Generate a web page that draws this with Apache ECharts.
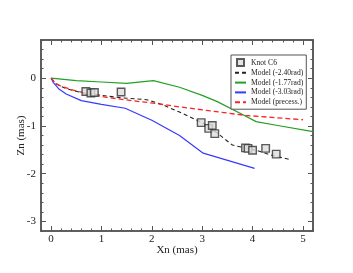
<!DOCTYPE html>
<html><head><meta charset="utf-8">
<script src="https://cdn.jsdelivr.net/npm/echarts@6/dist/echarts.min.js"></script>
<style>html,body{margin:0;padding:0;background:#fff}#c{width:353px;height:273px}</style>
</head><body><div id="c"></div>
<script>
const xTicks = [0, 1, 2, 3, 4, 5];
const yTicks = [-3, -2, -1, 0];
const knotC6 = [[0.69,-0.28],[0.79,-0.31],[0.86,-0.30],[1.39,-0.29],[2.98,-0.93],[3.13,-1.05],[3.20,-0.99],[3.25,-1.16],[3.86,-1.46],[3.91,-1.47],[4.00,-1.51],[4.26,-1.47],[4.47,-1.59]];
const model240 = [[0,0],[0.1,-0.12],[0.3,-0.22],[0.6,-0.3],[1.0,-0.36],[1.4,-0.41],[1.9,-0.45],[2.2,-0.55],[2.55,-0.71],[3.0,-0.93],[3.3,-1.15],[3.6,-1.40],[3.85,-1.46],[4.1,-1.52],[4.4,-1.62],[4.77,-1.71]];
const model177 = [[0,0],[0.5,-0.05],[1.0,-0.08],[1.5,-0.11],[2.03,-0.05],[2.55,-0.19],[3.0,-0.36],[3.3,-0.49],[3.8,-0.76],[4.07,-0.91],[4.5,-0.99],[5.2,-1.12]];
const model303 = [[0,0],[0.05,-0.1],[0.15,-0.22],[0.3,-0.33],[0.6,-0.47],[1.0,-0.55],[1.47,-0.63],[2.0,-0.88],[2.55,-1.2],[3.02,-1.57],[4.04,-1.89]];
const modelPrec = [[0,0],[0.08,-0.1],[0.2,-0.17],[0.44,-0.25],[0.7,-0.32],[1.1,-0.4],[1.6,-0.47],[2.09,-0.53],[2.55,-0.6],[3.2,-0.69],[3.87,-0.78],[5.0,-0.87]];
const names = ['Knot C6','Model (-2.40rad)','Model (-1.77rad)','Model (-3.03rad)','Model (precess.)'];

const xMin = -0.2, xMax = 5.2, yMin = -3.2, yMax = 0.8;
const xMinor = [], yMinor = [];
for (let i = 0; i <= 27; i++) xMinor.push(+(xMin + i * 0.2).toFixed(2));
for (let i = 0; i <= 20; i++) yMinor.push(+(yMin + i * 0.2).toFixed(2));

const FONT = 'Liberation Serif';
const frame = {show: true, onZero: false, lineStyle: {color: '#555', width: 1.5}};
function ax(pos, vals, len, labels, extra) {
  const isX = pos === 'bottom' || pos === 'top';
  return Object.assign({
    type: 'value', position: pos,
    min: isX ? xMin : yMin,
    max: isX ? xMax : yMax,
    axisLine: frame,
    axisTick: {show: true, inside: true, length: len, customValues: vals, lineStyle: {color: '#555', width: 1}},
    axisLabel: labels ? {show: true, customValues: vals, fontFamily: FONT, fontSize: 11, color: '#222', margin: isX ? 3 : 5} : {show: false},
    splitLine: {show: false}
  }, extra || {});
}
const hideSym = {opacity: 0};
const chart = echarts.init(document.getElementById('c'));
chart.setOption({
  animation: false,
  grid: {left: 41, top: 40, right: 40, bottom: 42, containLabel: false},
  xAxis: [
    ax('bottom', xTicks, 5, true, {name: 'Xn (mas)', nameLocation: 'middle', nameGap: 14, nameMoveOverlap: false, nameTextStyle: {fontFamily: FONT, fontSize: 11, color: '#222'}}),
    ax('bottom', xMinor, 2.5, false),
    ax('top', xTicks, 5, false),
    ax('top', xMinor, 2.5, false)
  ],
  yAxis: [
    ax('left', yTicks, 5, true, {name: 'Zn (mas)', nameLocation: 'middle', nameGap: 14, nameMoveOverlap: false, nameRotate: 90, nameTextStyle: {fontFamily: FONT, fontSize: 11, color: '#222'}}),
    ax('left', yMinor, 2.5, false),
    ax('right', yTicks, 5, false),
    ax('right', yMinor, 2.5, false)
  ],
  legend: {
    orient: 'vertical', left: 231, top: 55, itemGap: 1.8, itemWidth: 11, itemHeight: 7,
    padding: [3, 3, 3, 3], borderColor: '#555', borderWidth: 1, backgroundColor: '#fff',
    symbolKeepAspect: true,
    textStyle: {fontFamily: FONT, fontSize: 7.6, color: '#222'},
    data: [
      {name: names[0], icon: 'path://M0,0H1V1H0Z'},
      {name: names[1], itemStyle: hideSym},
      {name: names[2], itemStyle: hideSym},
      {name: names[3], itemStyle: hideSym},
      {name: names[4], itemStyle: hideSym}
    ]
  },
  series: [
    {name: names[1], type: 'line', data: model240, symbol: 'none', lineStyle: {color: '#222', width: 1.1, type: [4, 3]}, itemStyle: {color: '#222'}, z: 3},
    {name: names[2], type: 'line', data: model177, symbol: 'none', lineStyle: {color: '#22a022', width: 1.2}, itemStyle: {color: '#22a022'}, z: 3},
    {name: names[3], type: 'line', data: model303, symbol: 'none', lineStyle: {color: '#3838ff', width: 1.2}, itemStyle: {color: '#3838ff'}, z: 3},
    {name: names[4], type: 'line', data: modelPrec, symbol: 'none', lineStyle: {color: '#ff2222', width: 1.3, type: [5, 3]}, itemStyle: {color: '#ff2222'}, z: 3},
    {name: names[0], type: 'scatter', data: knotC6, symbol: 'rect', symbolSize: 7.5, itemStyle: {color: '#ddd', borderColor: '#333', borderWidth: 1.4}, z: 4}
  ]
});
</script></body></html>
